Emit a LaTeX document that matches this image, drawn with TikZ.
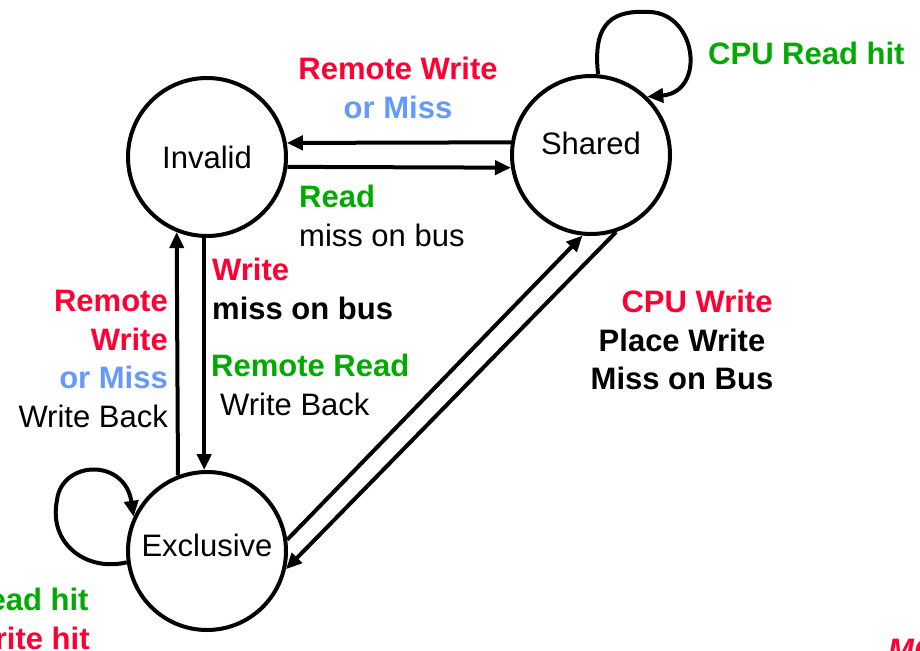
\documentclass[tikz,border=0pt]{standalone}
\usepackage{fontspec}
\setmainfont{Liberation Sans}
\usetikzlibrary{arrows.meta}

\definecolor{hitred}{RGB}{255,0,51}
\definecolor{hitgreen}{RGB}{0,170,0}
\definecolor{missblue}{RGB}{102,153,255}

\begin{document}
\begin{tikzpicture}[
        x = 1pt,
        y = -1pt,
        font = \fontsize{31}{38.5}\selectfont,
        every node/.style = {inner sep = 0pt},
        state/.style = {
                circle,
                draw,
                line width = 4pt,
                minimum size = 158pt
            },
        transition/.style = {
                line width = 4pt,
                -{Triangle[length = 16pt, width = 14pt]}
            },
        note/.style = {font = \fontsize{31}{38.5}\selectfont\bfseries}
    ]

    \useasboundingbox (0,0) rectangle (920,650);
    \clip (0,0) rectangle (920,650);

    % states
    \node[state] (invalid) at (207,157) {Invalid};
    \node[state, text depth = 24pt] (shared) at (591,155) {Shared};
    \node[state, text depth = 12pt] (exclusive) at (207,551) {Exclusive};

    % transitions
    \draw[transition] (shared.171) -- (invalid.10);
    \draw[transition] (invalid.-7) -- (shared.189);
    \draw[transition] (exclusive.111.5) -- (invalid.248.5);
    \draw[transition] (invalid.268) -- (exclusive.92);
    \draw[transition] (exclusive.8) -- (shared.264);
    \draw[transition] (shared.288) -- (exclusive.-13);

    % self loops
    \draw[transition] (shared.85) .. controls (592,20) and (615,10) .. (650,12)
        .. controls (697,14) and (706,92) .. (shared.46);
    \draw[transition] (exclusive.188) .. controls (88,572) and (48,545) .. (57,500)
        .. controls (62,460) and (125,458) .. (exclusive.155);

    % labels
    \node[note, align = center, anchor = north] (remotewrite) at (398,57)
        {{\color{hitred}Remote Write}\\{\color{missblue}or Miss}};
    \node[note, align = left, anchor = north west] (readmiss) at (299,185)
        {{\color{hitgreen}Read}\\{\mdseries miss on bus}};
    \node[note, align = left, anchor = north west] (writemiss) at (212,258)
        {{\color{hitred}Write}\\miss on bus};
    \node[note, align = left, anchor = north west] (remoteread) at (211,354)
        {{\color{hitgreen}Remote Read}\\{\mdseries\hspace*{9pt}Write Back}};
    \node[note, align = right, anchor = north east] (writeback) at (168,290)
        {{\color{hitred}Remote}\\{\color{hitred}Write}\\{\color{missblue}or Miss}\\{\mdseries Write Back}};
    \node[note, align = center, anchor = north] (cpuwrite) at (682,290)
        {{\color{hitred}\hspace*{30pt}CPU Write}\\Place Write\\Miss on Bus};
    \node[note, anchor = base west, text = hitgreen] (cpureadhit) at (708,65) {CPU Read hit};
    \node[note, align = left, anchor = north west] (exclusivehit) at (-34,588)
        {{\color{hitgreen}Read hit}\\{\color{hitred}Write hit}};
    \node[anchor = base west, text = hitred, font = \fontsize{31}{38.5}\selectfont\bfseries\itshape] (logo) at (888,660) {MC};

\end{tikzpicture}
\end{document}
